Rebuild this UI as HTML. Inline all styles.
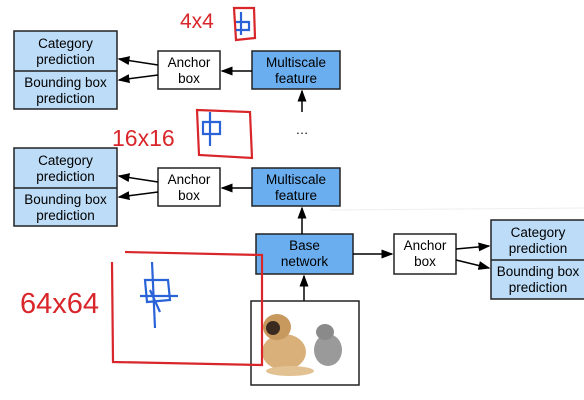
<!DOCTYPE html>
<html><head><meta charset="utf-8"><style>
body{margin:0;background:#fff;}
svg{display:block;font-family:"Liberation Sans",sans-serif;}
</style></head><body>
<svg width="584" height="400" viewBox="0 0 584 400">
<defs><marker id="ah" markerWidth="8" markerHeight="8" refX="7" refY="4" orient="auto"><path d="M0,1 L8,4 L0,7 Z" fill="#000"/></marker></defs>
<line x1="330" y1="210" x2="584" y2="208" stroke="#eee" stroke-width="1"/>
<g font-size="13.5">
<g>
<rect x="14" y="31" width="103" height="78" fill="#bcdcf7" stroke="#222" stroke-width="1.5"/>
<line x1="14" y1="71" x2="117" y2="71" stroke="#222" stroke-width="1.5"/>
<text x="65.5" y="48" text-anchor="middle">Category</text>
<text x="65.5" y="64" text-anchor="middle">prediction</text>
<text x="65.5" y="87" text-anchor="middle">Bounding box</text>
<text x="65.5" y="103" text-anchor="middle">prediction</text>
</g>
<g>
<rect x="158" y="51" width="62" height="38" fill="#fff" stroke="#222" stroke-width="1.5"/>
<text x="189" y="67" text-anchor="middle">Anchor</text>
<text x="189" y="83" text-anchor="middle">box</text>
</g>
<g>
<rect x="252" y="51" width="88" height="38" fill="#6aaef0" stroke="#222" stroke-width="1.5"/>
<text x="296" y="67" text-anchor="middle">Multiscale</text>
<text x="296" y="83" text-anchor="middle">feature</text>
</g>
<g>
<rect x="14" y="148" width="103" height="78" fill="#bcdcf7" stroke="#222" stroke-width="1.5"/>
<line x1="14" y1="188" x2="117" y2="188" stroke="#222" stroke-width="1.5"/>
<text x="65.5" y="165" text-anchor="middle">Category</text>
<text x="65.5" y="181" text-anchor="middle">prediction</text>
<text x="65.5" y="204" text-anchor="middle">Bounding box</text>
<text x="65.5" y="220" text-anchor="middle">prediction</text>
</g>
<g>
<rect x="158" y="168" width="62" height="38" fill="#fff" stroke="#222" stroke-width="1.5"/>
<text x="189" y="184" text-anchor="middle">Anchor</text>
<text x="189" y="200" text-anchor="middle">box</text>
</g>
<g>
<rect x="252" y="168" width="88" height="38" fill="#6aaef0" stroke="#222" stroke-width="1.5"/>
<text x="296" y="184" text-anchor="middle">Multiscale</text>
<text x="296" y="200" text-anchor="middle">feature</text>
</g>
<g>
<rect x="256" y="234" width="97" height="40" fill="#6aaef0" stroke="#222" stroke-width="1.5"/>
<text x="304.5" y="250" text-anchor="middle">Base</text>
<text x="304.5" y="266" text-anchor="middle">network</text>
</g>
<g>
<rect x="394" y="234" width="62" height="40" fill="#fff" stroke="#222" stroke-width="1.5"/>
<text x="425" y="250" text-anchor="middle">Anchor</text>
<text x="425" y="266" text-anchor="middle">box</text>
</g>
<g>
<rect x="491" y="220" width="100" height="79" fill="#bcdcf7" stroke="#222" stroke-width="1.5"/>
<line x1="491" y1="260" x2="591" y2="260" stroke="#222" stroke-width="1.5"/>
<text x="538" y="237" text-anchor="middle">Category</text>
<text x="538" y="253" text-anchor="middle">prediction</text>
<text x="538" y="276" text-anchor="middle">Bounding box</text>
<text x="538" y="292" text-anchor="middle">prediction</text>
</g>
</g>
<line x1="252" y1="71" x2="222" y2="71" stroke="#000" stroke-width="1.5" marker-end="url(#ah)"/>
<line x1="158" y1="65" x2="119" y2="59" stroke="#000" stroke-width="1.5" marker-end="url(#ah)"/>
<line x1="158" y1="75" x2="119" y2="80" stroke="#000" stroke-width="1.5" marker-end="url(#ah)"/>
<line x1="302" y1="112" x2="302" y2="91" stroke="#000" stroke-width="1.5" marker-end="url(#ah)"/>
<text x="302" y="134" font-size="13" text-anchor="middle">…</text>
<line x1="252" y1="188" x2="222" y2="188" stroke="#000" stroke-width="1.5" marker-end="url(#ah)"/>
<line x1="158" y1="182" x2="119" y2="176" stroke="#000" stroke-width="1.5" marker-end="url(#ah)"/>
<line x1="158" y1="192" x2="119" y2="197" stroke="#000" stroke-width="1.5" marker-end="url(#ah)"/>
<line x1="302" y1="234" x2="302" y2="208" stroke="#000" stroke-width="1.5" marker-end="url(#ah)"/>
<line x1="353" y1="254" x2="392" y2="254" stroke="#000" stroke-width="1.5" marker-end="url(#ah)"/>
<line x1="456" y1="249" x2="489" y2="246" stroke="#000" stroke-width="1.5" marker-end="url(#ah)"/>
<line x1="456" y1="260" x2="489" y2="268" stroke="#000" stroke-width="1.5" marker-end="url(#ah)"/>
<line x1="304" y1="301" x2="304" y2="276" stroke="#000" stroke-width="1.5" marker-end="url(#ah)"/>
<g>
<rect x="251" y="301" width="108" height="84" fill="#fff" stroke="#222" stroke-width="1.5"/>
<ellipse cx="284" cy="352" rx="22" ry="18" fill="#d9b07a"/>
<ellipse cx="277" cy="327" rx="14" ry="13" fill="#c8995e"/>
<ellipse cx="273" cy="328" rx="7" ry="7" fill="#3a2a20"/>
<ellipse cx="290" cy="371" rx="24" ry="5" fill="#e2c193"/>
<ellipse cx="328" cy="350" rx="14" ry="16" fill="#9a9a9a"/>
<ellipse cx="325" cy="332" rx="9" ry="8" fill="#8a8a8a"/>
</g>
<g fill="none" stroke="#d8262a" stroke-width="2.2">
<path d="M234,8 L254,8 L255,38 L236,40 Z"/>
<path d="M197,110 L250,112 L252,158 L199,155 Z"/>
<path d="M125,252 L262,255 L262,365 L113,362 L112,262"/>
</g>
<g fill="none" stroke="#2a62d8" stroke-width="2.2">
<path d="M241,12 L241,35 M236,22 L249,22 L249,30 L236,30"/>
<path d="M210,112 L210,146 M203,122 L220,122 L220,134 L203,134 Z"/>
<path d="M152,262 L155,328 M145,280 L168,280 L170,300 L147,302 Z M150,290 L160,312 M140,296 L178,296"/>
</g>
<text x="180" y="28" font-size="21" fill="#d8262a">4x4</text>
<text x="112" y="146" font-size="23" fill="#d8262a">16x16</text>
<text x="20" y="313" font-size="29" fill="#d8262a">64x64</text>
</svg>
</body></html>
